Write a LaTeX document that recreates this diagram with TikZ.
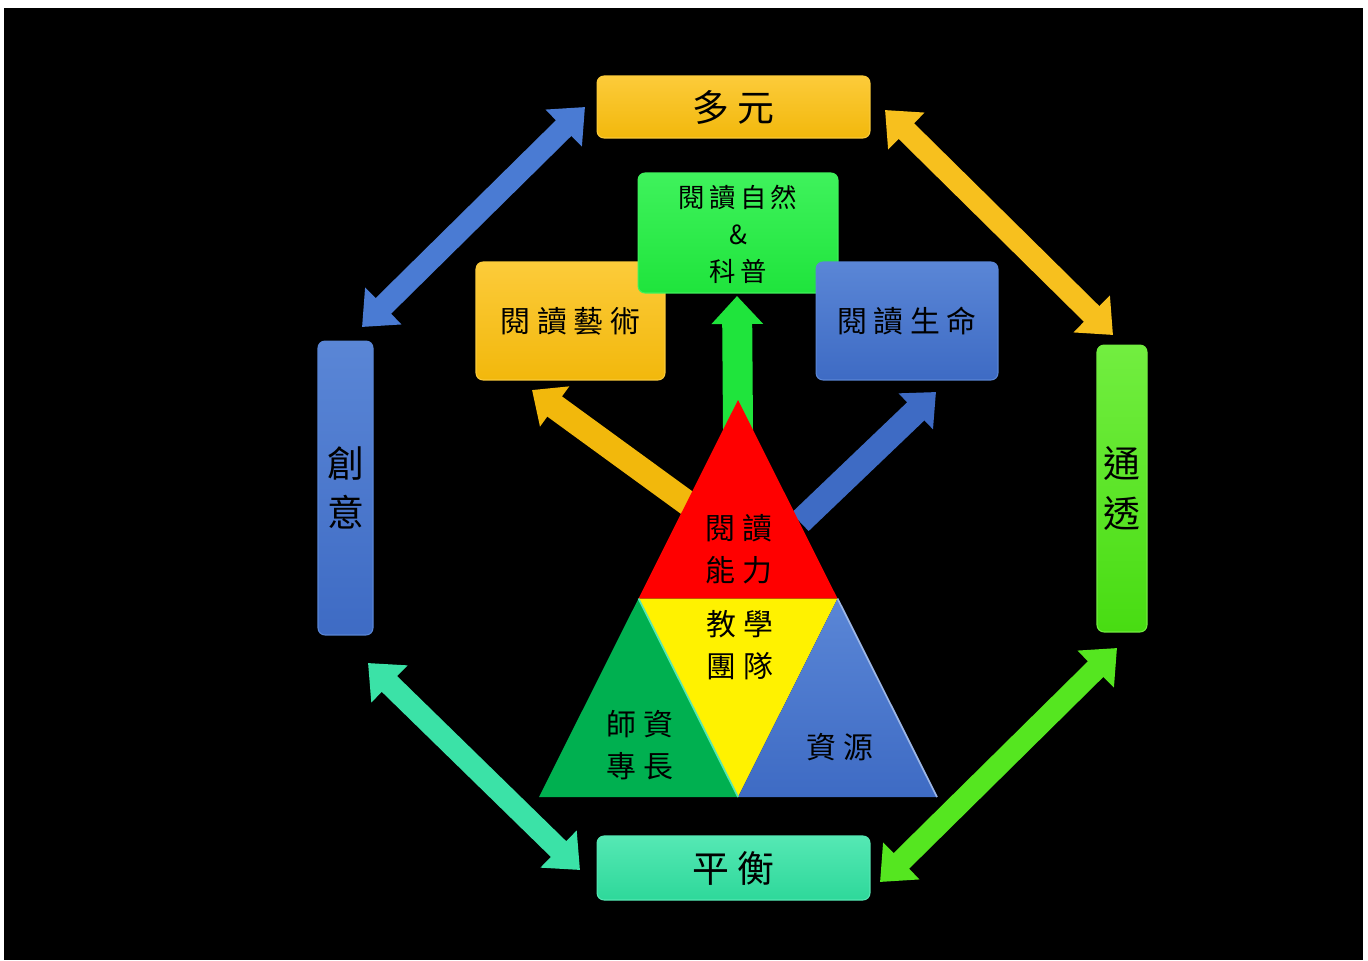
\documentclass[tikz,border=0pt]{standalone}
\usepackage{fontspec}
\newfontfamily\tcfont{Noto Sans CJK TC}
\usetikzlibrary{arrows.meta,calc}
\definecolor{gold}{HTML}{F2B80C}
\definecolor{goldlt}{HTML}{FCCB3A}
\definecolor{azure}{HTML}{3E6BC4}
\definecolor{azurelt}{HTML}{5A86D6}
\definecolor{lime}{HTML}{48DC12}
\definecolor{limelt}{HTML}{72EE40}
\definecolor{leaf}{HTML}{1FE43C}
\definecolor{leaflt}{HTML}{3FF25C}
\definecolor{mint}{HTML}{2ED89A}
\definecolor{mintlt}{HTML}{55E8B4}
\definecolor{trigreen}{HTML}{00B050}
\begin{document}
\begin{tikzpicture}[x=0.02cm, y=-0.02cm,
        box/.style = {draw, rounded corners=4pt, line width=0.6pt, inner sep=0pt, align=center, text=black},
        big/.style = {font=\tcfont\fontsize{21}{28}\selectfont},
        mid/.style = {font=\tcfont\fontsize{17}{22}\selectfont},
        small/.style = {font=\tcfont\fontsize{15}{21}\selectfont},
        tri/.style = {font=\tcfont\fontsize{17}{24}\selectfont, align=center, text=black},
        dbl/.style = {line width=0.44cm, {Triangle[width=1cm,length=0.6cm]}-{Triangle[width=1cm,length=0.6cm]}},
        sgl/.style = {line width=0.5cm, -{Triangle[width=0.96cm,length=0.56cm]}}]
        \useasboundingbox (0,0) rectangle (1368,960);
        \fill[white] (0,0) rectangle (1368,960);
        \fill[black] (4,8) rectangle (1363,960);
        % outer ring
        \node[box, big, top color=goldlt, bottom color=gold, draw=goldlt, minimum width=5.46cm, minimum height=1.24cm] (duo) at (733.5,107) {多 元};
        \node[box, big, top color=azurelt, bottom color=azure, draw=azurelt, minimum width=1.1cm, minimum height=5.88cm] (chuang) at (345.5,488) {創\\意};
        \node[box, big, top color=limelt, bottom color=lime, draw=limelt, minimum width=1cm, minimum height=5.74cm] (tong) at (1122,488.5) {通\\透};
        \node[box, big, top color=mintlt, bottom color=mint, draw=mintlt, minimum width=5.46cm, minimum height=1.28cm] (ping) at (733.5,868) {平 衡};
        % inner boxes
        \node[box, mid, top color=goldlt, bottom color=gold, draw=goldlt, minimum width=3.78cm, minimum height=2.36cm] (art) at (570.5,321) {閱 讀 藝 術};
        \node[box, small, top color=leaflt, bottom color=leaf, draw=leaflt, minimum width=4cm, minimum height=2.4cm, text depth=-0.16cm] (nature) at (738,233) {閱\,讀\,自\,然\\\&\\科\,普};
        \node[box, mid, top color=azurelt, bottom color=azure, draw=azurelt, minimum width=3.64cm, minimum height=2.36cm] (life) at (907,321) {閱 讀 生 命};
        % arrow ends
        \coordinate (b1) at (362,327);
        \coordinate (b2) at (585,107);
        \coordinate (o1) at (885,110);
        \coordinate (o2) at (1113,335);
        \coordinate (g1) at (1117,648);
        \coordinate (g2) at (880,882);
        \coordinate (t1) at (368,663);
        \coordinate (t2) at (580,870);
        \coordinate (artin) at (532,390);
        \coordinate (lifein) at (936,392);
        \coordinate (natin) at (737,296);
        % triangle
        \coordinate (apex) at (738,400);
        \coordinate (bl) at (539,797);
        \coordinate (br) at (937,797);
        \coordinate (ml) at ($(apex)!0.5!(bl)$);
        \coordinate (mr) at ($(apex)!0.5!(br)$);
        \coordinate (bm) at ($(bl)!0.5!(br)$);
        \draw[dbl, color={rgb,255:red,74;green,123;blue,211}] (b1) -- (b2);
        \draw[dbl, color={rgb,255:red,247;green,192;blue,30}] (o1) -- (o2);
        \draw[dbl, color={rgb,255:red,85;green,230;blue,32}] (g1) -- (g2);
        \draw[dbl, color={rgb,255:red,59;green,226;blue,167}] (t1) -- (t2);
        \draw[sgl, gold] (apex) ++(-48,105) -- (artin);
        \draw[sgl, azure] (apex) ++(62,122) -- (lifein);
        \draw[line width=0.6cm, leaf, -{Triangle[width=1cm,length=0.56cm]}] (apex) ++(0,30) -- (natin);
        \fill[red] (apex) -- (ml) -- (mr) -- cycle;
        \fill[yellow] (ml) -- (mr) -- (bm) -- cycle;
        \fill[trigreen] (bl) -- (ml) -- (bm) -- cycle;
        \shade[top color=azurelt, bottom color=azure] (mr) -- (br) -- (bm) -- cycle;
        \draw[mintlt, line width=1pt] (ml) -- (bm);
        \draw[azurelt!60!white, line width=1pt] (mr) -- (br);
        \node[tri] (nengli) at (739,549) {閱 讀\\能 力};
        \node[tri] (tuandui) at (740,645) {教 學\\團 隊};
        \node[tri] (shizi) at (640,745) {師 資\\專 長};
        \node[tri] (ziyuan) at (840,747) {資 源};
        %\draw[sgl] (nengli) -- (art);
\end{tikzpicture}
\end{document}
